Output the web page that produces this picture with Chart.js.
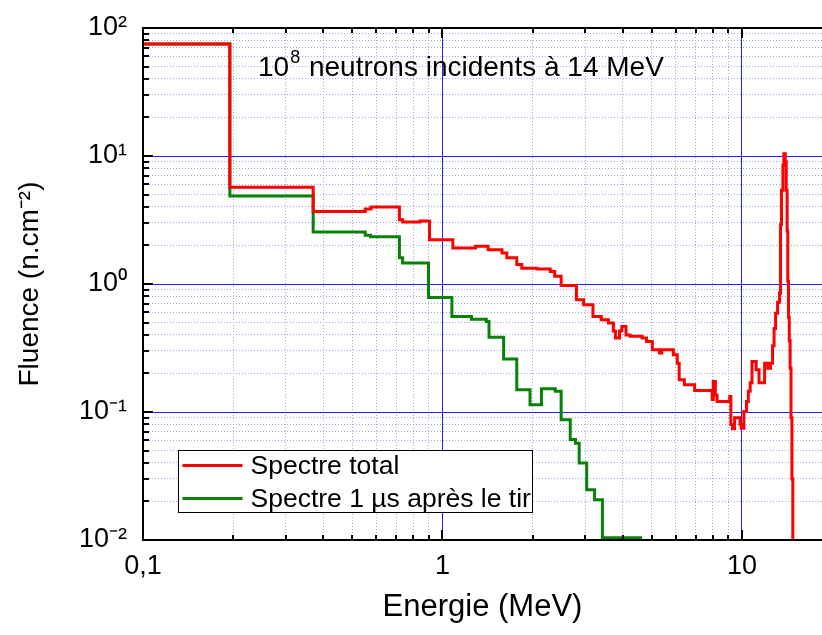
<!DOCTYPE html>
<html>
<head>
<meta charset="utf-8">
<script src="https://cdn.jsdelivr.net/npm/chart.js@4.4.0/dist/chart.umd.min.js"></script>
<style>
  html, body { margin: 0; padding: 0; background: #fff; }
  #wrap { width: 822px; height: 635px; }
</style>
</head>
<body>
<div id="wrap"><canvas id="spectre"></canvas></div>
<script>
// spectre total : bord gauche du bin (MeV) et fluence (n.cm-2)
const totalEnergy = [0.1, 0.195, 0.37, 0.552, 0.577, 0.718, 0.736, 0.842, 0.905, 1.083,
  1.29, 1.42, 1.58, 1.64, 1.77, 1.84, 2.07, 2.29, 2.37, 2.49,
  2.80, 2.96, 3.18, 3.39, 3.58, 3.72, 3.78, 3.90, 3.97, 4.10,
  4.23, 4.64, 4.80, 5.02, 5.30, 5.40, 5.90, 6.08, 6.17, 6.42,
  6.95, 7.95, 8.02, 8.15, 8.26, 9.10, 9.18, 9.30, 9.45, 9.85,
  9.95, 10.15, 10.35, 10.5, 10.65, 10.8, 11.15, 11.4, 11.9, 12.2,
  12.45, 12.65, 12.8, 12.95, 13.15, 13.35, 13.45, 13.55, 13.7, 13.8,
  13.95, 14.05, 14.15, 14.22, 14.3, 14.38, 14.48, 14.58, 14.68, 14.78];
const totalFluence = [75, 5.7, 3.69, 3.85, 4.0, 3.18, 3.05, 3.1, 2.22, 1.91,
  1.97, 1.85, 1.75, 1.60, 1.42, 1.33, 1.31, 1.25, 1.15, 0.975,
  0.754, 0.689, 0.558, 0.526, 0.496, 0.43, 0.378, 0.43, 0.466, 0.40,
  0.39, 0.378, 0.356, 0.307, 0.289, 0.307, 0.28, 0.24, 0.179, 0.163,
  0.147, 0.125, 0.173, 0.135, 0.121, 0.132, 0.08, 0.074, 0.09, 0.08,
  0.0745, 0.101, 0.121, 0.145, 0.169, 0.248, 0.214, 0.169, 0.24, 0.22,
  0.24, 0.33, 0.45, 0.59, 0.72, 0.85, 2.9, 5.4, 8.5, 10.4,
  9.0, 5.4, 2.6, 1.05, 0.55, 0.36, 0.22, 0.09, 0.03, 0.008];
const totalEnd = 14.9;

// spectre 1 µs après le tir
const apresEnergy = [0.1, 0.195, 0.37, 0.552, 0.575, 0.718, 0.736, 0.898, 1.075, 1.25,
  1.40, 1.43, 1.60, 1.77, 1.96, 2.14, 2.38, 2.49, 2.67, 2.78,
  2.86, 3.03, 3.22, 3.42];
const apresFluence = [75, 4.87, 2.55, 2.4, 2.34, 1.60, 1.46, 0.785, 0.558, 0.53,
  0.51, 0.383, 0.26, 0.149, 0.114, 0.152, 0.145, 0.087, 0.061, 0.057,
  0.04, 0.0247, 0.0206, 0.0104];
const apresEnd = 4.64;

const xTickValues = [0.1, 1, 10];
const xTickLabels = ['0,1', '1', '10'];
const yTickValues = [0.01, 0.1, 1, 10, 100];
const yTickLabels = ['10⁻²', '10⁻¹', '10⁰', '10¹', '10²'];

const FONT = '"Liberation Sans", Arial, sans-serif';

function toPoints(edges, vals, end) {
  const pts = edges.map((e, i) => ({x: e, y: vals[i]}));
  pts.push({x: end, y: vals[vals.length - 1]});
  return pts;
}

// 1..9 x 10^n
function logTicks(min, max) {
  const out = [];
  for (let d = Math.floor(Math.log10(min)); d <= Math.ceil(Math.log10(max)); d++) {
    for (let k = 1; k <= 9; k++) {
      const v = +(k * Math.pow(10, d)).toPrecision(6);
      if (v >= min - 1e-12 && v <= max) out.push({value: v, major: k === 1});
    }
  }
  return out;
}

const gridColor = c => (c.tick && c.tick.major) ? '#1f1fff' : '#a4a4ee';
const gridDash = c => (c.tick && c.tick.major) ? [] : [1, 2];

const framePlugin = {
  id: 'frame',
  afterDatasetsDraw(chart) {
    const {ctx, chartArea: a, scales: {x, y}} = chart;
    ctx.save();
    ctx.strokeStyle = '#000';
    ctx.lineWidth = 2;
    ctx.beginPath();
    x.ticks.forEach(t => {
      const px = Math.round(x.getPixelForValue(t.value));
      const len = t.major ? 10 : 5;
      ctx.moveTo(px, a.bottom); ctx.lineTo(px, a.bottom - len);
      ctx.moveTo(px, a.top); ctx.lineTo(px, a.top + len);
    });
    y.ticks.forEach(t => {
      const py = Math.round(y.getPixelForValue(t.value));
      const len = t.major ? 10 : 6;
      ctx.moveTo(a.left, py); ctx.lineTo(a.left + len, py);
    });
    ctx.stroke();
    ctx.beginPath();
    ctx.moveTo(a.right + 2, a.top);
    ctx.lineTo(a.left, a.top);
    ctx.lineTo(a.left, a.bottom);
    ctx.lineTo(a.right + 2, a.bottom);
    ctx.stroke();
    ctx.restore();
  },
  afterDraw(chart) {
    const {ctx, chartArea: a} = chart;
    ctx.save();
    // titre dans le graphe
    ctx.fillStyle = '#000';
    ctx.textBaseline = 'alphabetic';
    let tx = a.left + 115;
    const ty = a.top + 48;
    ctx.font = '28px ' + FONT;
    ctx.fillText('10', tx, ty);
    tx += ctx.measureText('10').width + 1;
    ctx.font = '18px ' + FONT;
    ctx.fillText('8', tx, ty - 13);
    tx += ctx.measureText('8').width + 1;
    ctx.font = '28px ' + FONT;
    ctx.fillText(' neutrons incidents à 14 MeV', tx, ty);

    // légende
    const bx = a.left + 35.5, by = a.top + 422.5, bw = 354, bh = 62;
    ctx.fillStyle = '#fff';
    ctx.fillRect(bx, by, bw, bh);
    ctx.strokeStyle = '#000';
    ctx.lineWidth = 1;
    ctx.strokeRect(bx, by, bw, bh);
    ctx.font = '26.5px ' + FONT;
    ctx.textBaseline = 'middle';
    chart.data.datasets.forEach((ds, i) => {
      const ly = by + 15 + i * 33;
      ctx.strokeStyle = ds.borderColor;
      ctx.lineWidth = 3;
      ctx.beginPath();
      ctx.moveTo(bx + 4, ly);
      ctx.lineTo(bx + 64, ly);
      ctx.stroke();
      ctx.fillStyle = '#000';
      ctx.fillText(ds.label, bx + 72, ly + 1);
    });
    ctx.restore();
  }
};

new Chart(document.getElementById('spectre'), {
  type: 'line',
  data: {
    datasets: [
      {
        label: 'Spectre total',
        data: toPoints(totalEnergy, totalFluence, totalEnd),
        borderColor: '#ff0000',
        borderWidth: 3,
        stepped: 'before',
        pointRadius: 0,
        fill: false
      },
      {
        label: 'Spectre 1 µs après le tir',
        data: toPoints(apresEnergy, apresFluence, apresEnd),
        borderColor: '#078207',
        borderWidth: 3,
        stepped: 'before',
        pointRadius: 0,
        fill: false
      }
    ]
  },
  options: {
    responsive: true,
    maintainAspectRatio: false,
    animation: false,
    layout: {padding: {top: 28, right: 0, left: 0, bottom: 0}},
    plugins: {legend: {display: false}, tooltip: {enabled: false}},
    scales: {
      x: {
        type: 'logarithmic',
        min: 0.1,
        max: 18.5,
        afterBuildTicks: s => { s.ticks = logTicks(s.min, s.max); },
        afterFit: s => { s.height = 95; s.paddingLeft = 0; s.paddingRight = 0; },
        ticks: {
          autoSkip: false,
          maxRotation: 0,
          padding: 10,
          color: '#000',
          font: {family: FONT, size: 27},
          callback: v => {
            const i = xTickValues.indexOf(v);
            return i < 0 ? '' : xTickLabels[i];
          }
        },
        grid: {drawTicks: false, color: gridColor, lineWidth: 1},
        border: {display: false, dash: gridDash},
        title: {
          display: true,
          text: 'Energie (MeV)',
          color: '#000',
          font: {family: FONT, size: 31},
          padding: {top: 0, bottom: 9}
        }
      },
      y: {
        type: 'logarithmic',
        min: 0.01,
        max: 100,
        afterBuildTicks: s => { s.ticks = logTicks(s.min, s.max); },
        afterFit: s => { s.width = 143; s.paddingTop = 0; s.paddingBottom = 0; },
        ticks: {
          autoSkip: false,
          padding: 16,
          color: '#000',
          font: {family: FONT, size: 27},
          callback: v => {
            const i = yTickValues.indexOf(v);
            return i < 0 ? '' : yTickLabels[i];
          }
        },
        grid: {drawTicks: false, color: gridColor, lineWidth: 1},
        border: {display: false, dash: gridDash},
        title: {
          display: true,
          text: 'Fluence (n.cm⁻²)',
          color: '#000',
          font: {family: FONT, size: 28},
          padding: {top: 13, bottom: 0}
        }
      }
    }
  },
  plugins: [framePlugin]
});
</script>
</body>
</html>
